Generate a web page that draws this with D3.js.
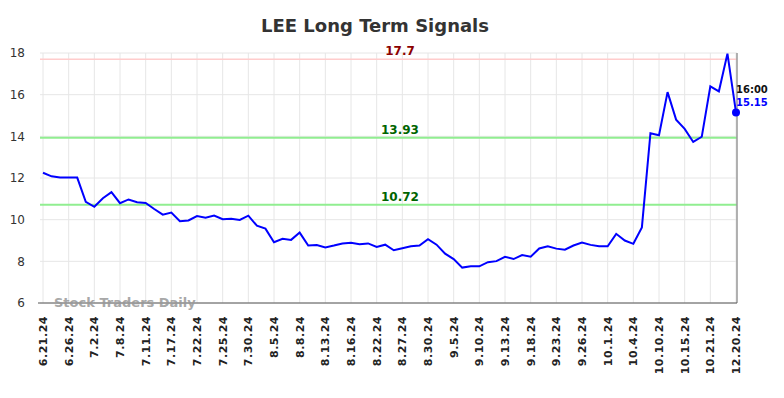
<!DOCTYPE html>
<html>
<head>
<meta charset="utf-8">
<script src="https://cdn.jsdelivr.net/npm/d3@7"></script>
<style>
  body { margin: 0; background: #fff; }
  svg { font-family: "DejaVu Sans", sans-serif; }
</style>
</head>
<body>
<svg id="chart" width="784" height="398"></svg>
<script>
// tick labels (one every 3 trading days)
var tickLabels = ["6.21.24","6.26.24","7.2.24","7.8.24","7.11.24","7.17.24","7.22.24","7.25.24","7.30.24",
  "8.5.24","8.8.24","8.13.24","8.16.24","8.22.24","8.27.24","8.30.24","9.5.24","9.10.24","9.13.24",
  "9.18.24","9.23.24","9.26.24","10.1.24","10.4.24","10.10.24","10.15.24","10.21.24","12.20.24"];

// closing prices, one per point
var prices = [12.25,12.08,12.02,12.02,12.02,10.86,10.62,11.03,11.32,10.79,10.97,10.84,10.80,10.51,10.24,10.34,
  9.93,9.96,10.17,10.09,10.20,10.02,10.04,9.99,10.19,9.71,9.57,8.92,9.08,9.03,9.38,8.76,
  8.78,8.67,8.76,8.86,8.89,8.82,8.86,8.69,8.80,8.53,8.63,8.72,8.76,9.06,8.80,8.37,
  8.11,7.70,7.76,7.76,7.96,8.01,8.22,8.11,8.30,8.22,8.62,8.72,8.61,8.56,8.76,8.90,
  8.79,8.72,8.72,9.32,9.00,8.84,9.63,14.15,14.05,16.12,14.80,14.36,13.73,13.98,16.40,16.16,
  17.97,15.15];

var signalLevels = [17.7, 13.93, 10.72];
var signalColors = ["#ffcccc", "#90ee90", "#90ee90"];
var signalText = ["#8b0000", "#006400", "#006400"];
var yTicks = [6, 8, 10, 12, 14, 16, 18];

(function() {
var svg = d3.select("#chart");
var pLeft = 40, pRight = 737, pTop = 53, pBottom = 303;

var x = d3.scaleLinear().domain([0, prices.length - 1]).range([43, 736]);
var y = d3.scaleLinear().domain([6, 18]).range([pBottom, pTop]);

var tickIdx = tickLabels.map(function(d, i) { return i * 3; });

// grid
svg.append("g").selectAll("line").data(yTicks).enter().append("line")
  .attr("x1", pLeft).attr("x2", pRight)
  .attr("y1", function(d) { return y(d); }).attr("y2", function(d) { return y(d); })
  .attr("stroke", "#e6e6e6").attr("stroke-width", 1);
svg.append("g").selectAll("line").data(tickIdx).enter().append("line")
  .attr("x1", function(d) { return x(d); }).attr("x2", function(d) { return x(d); })
  .attr("y1", pTop).attr("y2", pBottom)
  .attr("stroke", "#e6e6e6").attr("stroke-width", 1);

// y axis labels
svg.append("g").selectAll("text").data(yTicks).enter().append("text")
  .attr("x", 25).attr("y", function(d) { return y(d); }).attr("dy", "0.35em")
  .attr("text-anchor", "end").attr("font-size", 12).attr("fill", "#333")
  .text(function(d) { return d; });

// x axis labels
svg.append("g").selectAll("text").data(tickIdx).enter().append("text")
  .attr("transform", function(d) { return "translate(" + x(d) + ",316) rotate(-90)"; })
  .attr("dy", "0.35em").attr("text-anchor", "end")
  .attr("font-size", 11).attr("font-weight", "bold").attr("letter-spacing", 0.5).attr("fill", "#222")
  .text(function(d, i) { return tickLabels[i]; });

// signal lines
signalLevels.forEach(function(v, i) {
  svg.append("line").attr("x1", pLeft).attr("x2", pRight)
    .attr("y1", y(v)).attr("y2", y(v))
    .attr("stroke", signalColors[i]).attr("stroke-width", i == 0 ? 1.5 : 2);
  svg.append("text").attr("x", 400).attr("y", y(v) - 4)
    .attr("text-anchor", "middle").attr("font-size", 12).attr("font-weight", "bold")
    .attr("fill", signalText[i]).text(v);
});

// axes frame
svg.append("line").attr("x1", pRight).attr("x2", pRight).attr("y1", pTop).attr("y2", pBottom)
  .attr("stroke", "#999").attr("stroke-width", 1.5);
svg.append("line").attr("x1", pLeft - 2).attr("x2", pRight).attr("y1", pBottom).attr("y2", pBottom)
  .attr("stroke", "#555").attr("stroke-width", 1);

// watermark
svg.append("text").attr("x", 54).attr("y", 307).attr("font-size", 13).attr("font-weight", "bold")
  .attr("fill", "#999").attr("opacity", 0.85).text("Stock Traders Daily");

// price line
var line = d3.line().x(function(d, i) { return x(i); }).y(function(d) { return y(d); });
svg.append("path").datum(prices).attr("d", line)
  .attr("fill", "none").attr("stroke", "#0000ff").attr("stroke-width", 2);

var last = prices.length - 1;
svg.append("circle").attr("cx", x(last)).attr("cy", y(prices[last])).attr("r", 4).attr("fill", "#0000ff");
svg.append("text").attr("x", x(last)).attr("y", 93).attr("font-size", 10).attr("font-weight", "bold")
  .attr("fill", "#111").text("16:00");
svg.append("text").attr("x", x(last)).attr("y", 106).attr("font-size", 10).attr("font-weight", "bold")
  .attr("fill", "#0000ff").text(prices[last]);

// title
svg.append("text").attr("x", 375).attr("y", 32).attr("text-anchor", "middle")
  .attr("font-size", 18).attr("font-weight", "bold").attr("fill", "#333")
  .text("LEE Long Term Signals");
})();
</script>
</body>
</html>
